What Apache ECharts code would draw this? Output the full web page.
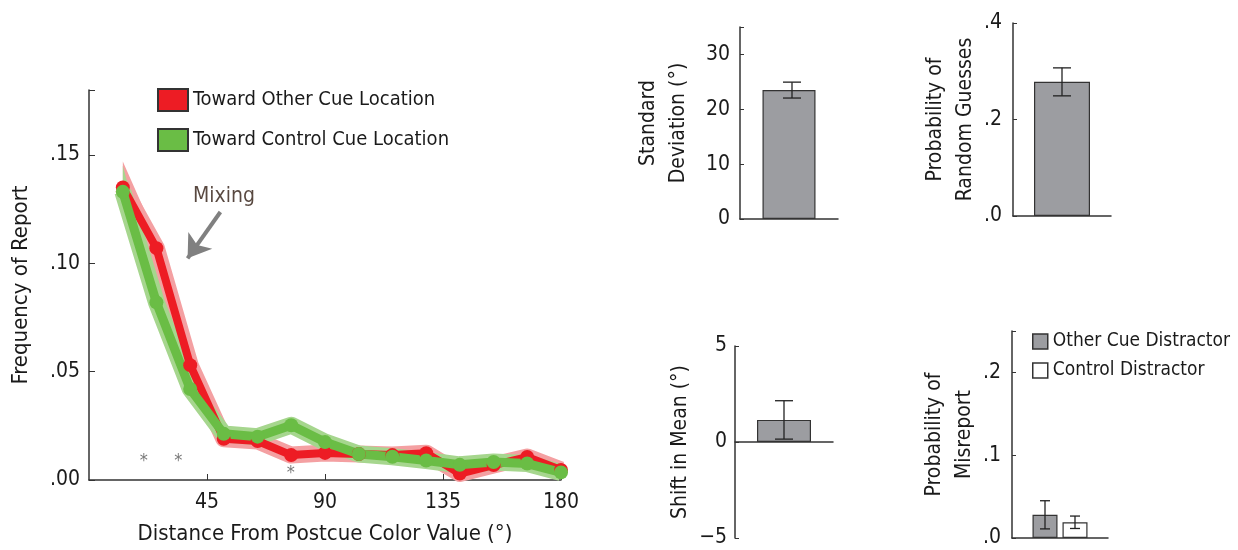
<!DOCTYPE html>
<html>
<head>
<meta charset="utf-8">
<script src="https://cdn.jsdelivr.net/npm/echarts@6/dist/echarts.min.js"></script>
<style>
html,body{margin:0;padding:0;background:#fff}
#main{width:1238px;height:550px}
</style>
</head>
<body>
<div id="main"></div>
<script>
// distance bins (deg) and report frequencies
let distances = [12.9, 25.7, 38.6, 51.4, 64.3, 77.1, 90, 102.9, 115.7, 128.6, 141.4, 154.3, 167.1, 180];
let towardOther = [0.135, 0.107, 0.053, 0.019, 0.018, 0.0115, 0.0125, 0.012, 0.0115, 0.0124, 0.003, 0.0069, 0.0106, 0.0046];
let towardOtherErr = [0.012, 0.005, 0.004, 0.003, 0.003, 0.003, 0.003, 0.003, 0.003, 0.003, 0.003, 0.003, 0.003, 0.003];
let towardControl = [0.133, 0.082, 0.042, 0.0213, 0.0200, 0.0253, 0.0175, 0.0120, 0.0107, 0.0090, 0.0070, 0.0083, 0.0076, 0.0035];
let towardControlErr = [0.012, 0.005, 0.004, 0.003, 0.003, 0.003, 0.003, 0.003, 0.003, 0.003, 0.003, 0.003, 0.003, 0.003];
let starX = [20.9, 34.1, 77.0];
let starY = [0.0084, 0.0084, 0.003];

// model parameters (mean, error)
let sdMean = [23.5], sdErr = [1.45];
let guessMean = [0.278], guessErr = [0.029];
let shiftMean = [1.15], shiftErr = [1.0];
let misOther = [0.028], misOtherErr = [0.017];
let misControl = [0.019], misControlErr = [0.0075];

let FONT = "'Liberation Sans Narrow', 'DejaVu Sans Condensed', 'Liberation Sans', sans-serif";
let RED = '#ed1c24', RED_BAND = '#f4a0a2';
let GREEN = '#6abd45', GREEN_BAND = '#a6d68e';
let BAR_GRAY = '#9c9da1';

let chart = echarts.init(document.getElementById('main'));

function pair(xs, ys){ return xs.map(function(x,i){ return [x, ys[i]]; }); }

function axisLine(){ return {show:true, onZero:true, lineStyle:{color:'#333', width:1.5}}; }
function tickLabel(fmt, margin){
  return {show:true, color:'#1a1a1a', fontSize:21, fontFamily:FONT, margin:margin, formatter:fmt};
}

// error band drawn as one polygon (upper edge, then lower edge back)
function bandSeries(vals, errs, color){
  return {
    type:'custom', silent:true, z:1,
    encode:{x:0, y:[1,2]},
    data: distances.map(function(x,i){ return [x, vals[i]-errs[i], vals[i]+errs[i]]; }),
    renderItem: function(params, api){
      if (params.dataIndexInside !== 0) return null;
      let n = params.dataInsideLength, up = [], lo = [];
      for (let i = 0; i < n; i++) {
        up.push(api.coord([api.value(0, i), api.value(2, i)]));
        lo.unshift(api.coord([api.value(0, i), api.value(1, i)]));
      }
      return {type:'polygon', shape:{points:up.concat(lo)}, style:{fill:color}};
    }
  };
}

function lineSeries(name, vals, color, band, width){
  return [{
    type:'line', symbol:'none', silent:true,
    data: pair(distances, vals),
    lineStyle:{color:band, width:17, join:'round'}, z:2
  },{
    name:name, type:'line', symbol:'circle', symbolSize:14,
    data: pair(distances, vals),
    itemStyle:{color:color},
    lineStyle:{color:color, width:width, join:'round'}, z:3
  }];
}

function errRender(offset, cap){
  return function(params, api){
    let i = api.value(0);
    let lo = api.coord([i, api.value(1)]);
    let hi = api.coord([i, api.value(2)]);
    let x = lo[0] + offset;
    let st = {stroke:'#222', lineWidth:1.3};
    return {type:'group', children:[
      {type:'line', shape:{x1:x, y1:lo[1], x2:x, y2:hi[1]}, style:st},
      {type:'line', shape:{x1:x-cap, y1:lo[1], x2:x+cap, y2:lo[1]}, style:st},
      {type:'line', shape:{x1:x-cap, y1:hi[1], x2:x+cap, y2:hi[1]}, style:st}
    ]};
  };
}
function errSeries(idx, mean, err, offset, cap){
  return {
    type:'custom', xAxisIndex:idx, yAxisIndex:idx, silent:true, z:5,
    renderItem: errRender(offset, cap),
    encode:{x:0, y:[1,2]},
    data: mean.map(function(m,i){ return [i, m-err[i], m+err[i]]; })
  };
}
function barSeries(idx, name, vals, color, width){
  return {
    name:name, type:'bar', xAxisIndex:idx, yAxisIndex:idx, data:vals, barWidth:width, barGap:'20%',
    itemStyle:{color:color, borderColor:'#333', borderWidth:1.2}, silent:true
  };
}

function panelX(idx){
  return {type:'category', gridIndex:idx, data:['a'], axisLine:axisLine(),
    axisTick:{show:false}, axisLabel:{show:false}, splitLine:{show:false}};
}
function panelY(idx, min, max, interval, fmt, name, gap, margin){
  return {type:'value', gridIndex:idx, min:min, max:max, interval:interval,
    axisLine:{show:true, onZero:false, lineStyle:{color:'#333', width:1.5}},
    axisTick:{show:true, inside:true, length:4, lineStyle:{color:'#333'}},
    axisLabel:tickLabel(fmt, margin), splitLine:{show:false},
    name:name, nameLocation:'middle', nameGap:gap,
    nameTextStyle:{fontSize:21, fontFamily:FONT, color:'#1a1a1a', lineHeight:30}};
}

let series = [].concat(
  bandSeries(towardOther, towardOtherErr, RED_BAND),
  lineSeries('Toward Other Cue Location', towardOther, RED, RED_BAND, 8),
  bandSeries(towardControl, towardControlErr, GREEN_BAND),
  lineSeries('Toward Control Cue Location', towardControl, GREEN, GREEN_BAND, 9)
);
series.push({
  type:'scatter', symbolSize:1, silent:true, itemStyle:{color:'rgba(0,0,0,0)'},
  data: pair(starX, starY),
  label:{show:true, position:'inside', formatter:'*', fontSize:18, color:'#555', fontFamily:FONT}, z:6
});
series.push({
  type:'scatter', symbolSize:1, silent:true, itemStyle:{color:'rgba(0,0,0,0)'},
  data: [[51.5, 0.131]],
  label:{show:true, position:'inside', formatter:'Mixing', fontSize:21, color:'#2e1a10', fontFamily:FONT},
  markLine:{
    silent:true, symbol:['none','arrow'], symbolSize:22,
    lineStyle:{color:'#808080', width:4, type:'solid'}, itemStyle:{color:'#808080'}, label:{show:false},
    data:[[{coord:[50.1, 0.1237]}, {coord:[37.6, 0.1023]}]]
  }, z:6
});
series.push(barSeries(1, 'sd', sdMean, BAR_GRAY, 53));
series.push(errSeries(1, sdMean, sdErr, 3, 9));
series.push(barSeries(2, 'guess', guessMean, BAR_GRAY, 56));
series.push(errSeries(2, guessMean, guessErr, 0, 9));
series.push(barSeries(3, 'shift', shiftMean, BAR_GRAY, 54));
series.push(errSeries(3, shiftMean, shiftErr, 0, 9));
series.push(barSeries(4, 'Other Cue Distractor', misOther, BAR_GRAY, 25));
series.push(barSeries(4, 'Control Distractor', misControl, '#ffffff', 25));
series.push(errSeries(4, misOther, misOtherErr, -15, 5));
series.push(errSeries(4, misControl, misControlErr, 15, 5));

let option = {
  animation:false,
  backgroundColor:'#fff',
  textStyle:{fontFamily:FONT},
  grid:[
    {left:89, top:90, width:472, height:393},
    {left:740, top:27, width:98, height:192},
    {left:1013, top:23, width:98, height:193},
    {left:735, top:346, width:98, height:192},
    {left:1012, top:331, width:96, height:207}
  ],
  legend:[{
    orient:'vertical', left:152, top:83, itemWidth:30, itemHeight:22, itemGap:16, icon:'rect',
    textStyle:{fontSize:20, fontFamily:FONT, color:'#1a1a1a'}, selectedMode:false,
    data:[
      {name:'Toward Other Cue Location', itemStyle:{color:RED, borderColor:'#333', borderWidth:2}},
      {name:'Toward Control Cue Location', itemStyle:{color:GREEN, borderColor:'#333', borderWidth:2}}
    ]
  },{
    orient:'vertical', left:1027, top:327, itemWidth:15, itemHeight:15, itemGap:10, icon:'rect',
    textStyle:{fontSize:19, fontFamily:FONT, color:'#1a1a1a'}, selectedMode:false,
    data:[
      {name:'Other Cue Distractor', itemStyle:{color:BAR_GRAY, borderColor:'#333', borderWidth:1.5}},
      {name:'Control Distractor', itemStyle:{color:'#fff', borderColor:'#333', borderWidth:1.5}}
    ]
  }],
  xAxis:[
    {type:'value', gridIndex:0, min:0, max:180, interval:45,
      axisLine:axisLine(), axisTick:{show:true, inside:true, length:6, lineStyle:{color:'#333'}},
      axisLabel:Object.assign(tickLabel(null, 12), {showMinLabel:false}), splitLine:{show:false},
      name:'Distance From Postcue Color Value (°)', nameLocation:'middle', nameGap:43,
      nameTextStyle:{fontSize:22, fontFamily:FONT, color:'#1a1a1a'}},
    panelX(1), panelX(2), panelX(3), panelX(4)
  ],
  yAxis:[
    {type:'value', gridIndex:0, min:0, max:0.18, interval:0.05,
      axisLine:{show:true, onZero:false, lineStyle:{color:'#333', width:1.5}},
      axisTick:{show:true, inside:true, length:6, lineStyle:{color:'#333'}},
      axisLabel:tickLabel(function(v){ return v > 0.16 ? '' : v.toFixed(2).replace(/^0/, ''); }, 9),
      splitLine:{show:false},
      name:'Frequency of Report', nameLocation:'middle', nameGap:57,
      nameTextStyle:{fontSize:22, fontFamily:FONT, color:'#1a1a1a'}},
    panelY(1, 0, 35, 10, function(v){ return v > 31 ? '' : String(v); }, 'Standard\nDeviation (°)', 46, 10),
    panelY(2, 0, 0.4, 0.2, function(v){ return v.toFixed(1).replace(/^0/, ''); }, 'Probability of\nRandom Guesses', 32, 11),
    panelY(3, -5, 5, 5, function(v){ return v < 0 ? '\u2212' + (-v) : String(v); }, 'Shift in Mean (°)', 29, 8),
    panelY(4, 0, 0.25, 0.1, function(v){ return v > 0.21 ? '' : v.toFixed(1).replace(/^0/, ''); }, 'Probability of\nMisreport', 31, 11)
  ],
  series:series
};
// bind grids for left chart series
option.series.forEach(function(s){ if (s.xAxisIndex === undefined) { s.xAxisIndex = 0; s.yAxisIndex = 0; } });
chart.setOption(option);
</script>
</body>
</html>
